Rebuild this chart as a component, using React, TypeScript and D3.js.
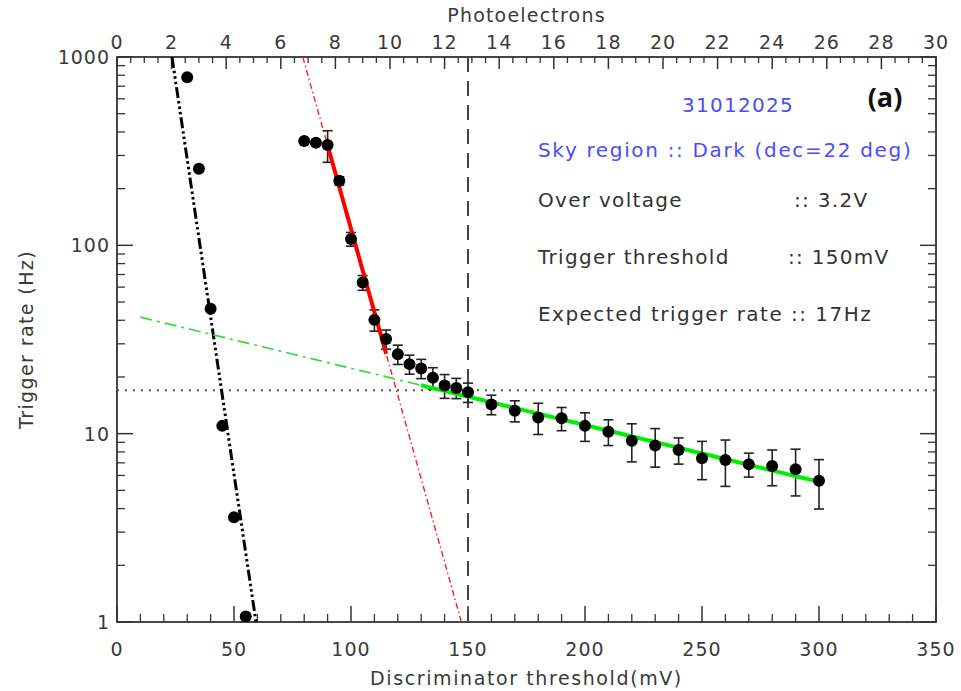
import React, { useEffect } from "react";
import * as d3 from "d3";

// ---------- data ----------
const lowThresholds = [30, 35, 40, 45, 50, 55];
const lowRates = [780, 255, 46, 11.0, 3.6, 1.07];

const thresholds = [80, 85, 90, 95, 100, 105, 110, 115, 120, 125, 130, 135, 140, 145, 150,
  160, 170, 180, 190, 200, 210, 220, 230, 240, 250, 260, 270, 280, 290, 300];
const rates = [358, 351, 341, 220, 108, 63.4, 40.2, 31.8, 26.4, 23.4, 22.2, 19.8, 18.0, 17.5, 16.6,
  14.3, 13.25, 12.2, 12.07, 11.0, 10.25, 9.18, 8.64, 8.19, 7.40, 7.25, 6.88, 6.74, 6.47, 5.63];
const rateErrors = [0, 0, 65, 11, 9, 5.7, 5.2, 3.7, 3.1, 2.7, 2.6, 2.6, 2.6, 2.15, 1.95,
  1.7, 1.7, 2.3, 1.7, 1.9, 1.6, 2.1, 2.0, 1.3, 1.7, 2.0, 1.0, 1.45, 1.8, 1.65];

// fits: log10(rate) = intercept + slope * threshold
const blackFit = { intercept: 4.964, slope: -0.08357, dashFrom: 23.5, dashTo: 59.4 };
const redFit = { intercept: 6.513, slope: -0.04425, dashFrom: 79.4, dashTo: 147.2, solidFrom: 90, solidTo: 115 };
const greenFit = { intercept: 1.6488, slope: -0.003015, dashFrom: 10, dashTo: 300, solidFrom: 130, solidTo: 300 };

const expectedRate = 17;
const triggerThreshold = 150;

const xTicks = [0, 50, 100, 150, 200, 250, 300, 350];
const peTicks = [0, 2, 4, 6, 8, 10, 12, 14, 16, 18, 20, 22, 24, 26, 28, 30];
const yTicks = [1, 10, 100, 1000];

const annotations = [
  { text: "31012025", color: "#4b4bff", anchor: "middle", col: 738, row: 0, len: 0 },
  { text: "Sky region :: Dark (dec=22 deg)", color: "#4b4bff", anchor: "start", col: 538, row: 1, len: 374 },
  { text: "Over voltage", color: "#333", anchor: "start", col: 538, row: 2, len: 0 },
  { text: ":: 3.2V", color: "#333", anchor: "start", col: 794, row: 2, len: 0 },
  { text: "Trigger threshold", color: "#333", anchor: "start", col: 538, row: 3, len: 0 },
  { text: ":: 150mV", color: "#333", anchor: "start", col: 788, row: 3, len: 0 },
  { text: "Expected trigger rate :: 17Hz", color: "#333", anchor: "start", col: 538, row: 4, len: 334 },
];
const annotationRows = [105, 150, 200, 257, 314];

// ---------- layout ----------
const W = 961, H = 691;
const L = 117, R = 936, T = 57, B = 622;
const FONT = "'DejaVu Sans', sans-serif";

export default function App() {
  useEffect(() => {
    document.body.style.margin = "0";
  }, []);

  const x = d3.scaleLinear().domain([0, 350]).range([L, R]);
  const xTop = d3.scaleLinear().domain([0, 30]).range([L, R]);
  const y = d3.scaleLog().domain([1, 1000]).range([B, T]);

  const fitLine = (fit: { intercept: number; slope: number }, a: number, b: number) => {
    const pts: [number, number][] = d3.range(0, 41).map((i) => {
      const t = a + ((b - a) * i) / 40;
      return [t, Math.pow(10, fit.intercept + fit.slope * t)];
    });
    return d3.line<[number, number]>().x((d) => x(d[0])).y((d) => y(d[1]))(pts) || "";
  };

  const xMinor = d3.range(0, 351, 10).filter((v) => v % 50 !== 0);
  const peMinor = d3.range(0, 30.01, 0.5).filter((v) => Math.abs(v % 2) > 1e-6);
  const yMinor: number[] = [];
  [1, 10, 100].forEach((dec) => {
    for (let k = 2; k <= 9; k++) yMinor.push(dec * k);
  });

  const tickColor = "#333";
  const labelColor = "#3a3a3a";

  return (
    <svg width={W} height={H} style={{ position: "absolute", left: 0, top: 0, background: "#fff" }}
      fontFamily={FONT}>
      <rect x={0} y={0} width={W} height={H} fill="#fff" />

      {/* frame */}
      <rect x={L} y={T} width={R - L} height={B - T} fill="none" stroke="#333" strokeWidth={1.8} />

      {/* bottom axis ticks */}
      {xTicks.map((v) => (
        <g key={"xb" + v}>
          <line x1={x(v)} x2={x(v)} y1={B} y2={B - 16} stroke={tickColor} strokeWidth={1.5} />
          <text x={x(v)} y={656} textAnchor="middle" fontSize={19} fill={labelColor} letterSpacing={1}>{v}</text>
        </g>
      ))}
      {xMinor.map((v) => (
        <line key={"xm" + v} x1={x(v)} x2={x(v)} y1={B} y2={B - 8} stroke={tickColor} strokeWidth={1.3} />
      ))}

      {/* top axis ticks (photoelectrons) */}
      {peTicks.map((v) => (
        <g key={"xt" + v}>
          <line x1={xTop(v)} x2={xTop(v)} y1={T} y2={T + 12} stroke={tickColor} strokeWidth={1.5} />
          <text x={xTop(v)} y={49} textAnchor="middle" fontSize={19} fill={labelColor} letterSpacing={1}>{v}</text>
        </g>
      ))}
      {peMinor.map((v) => (
        <line key={"xtm" + v} x1={xTop(v)} x2={xTop(v)} y1={T} y2={T + 6} stroke={tickColor} strokeWidth={1.3} />
      ))}

      {/* left & right axis ticks */}
      {yTicks.map((v) => (
        <g key={"y" + v}>
          <line x1={L} x2={L + 16} y1={y(v)} y2={y(v)} stroke={tickColor} strokeWidth={1.5} />
          <line x1={R} x2={R - 16} y1={y(v)} y2={y(v)} stroke={tickColor} strokeWidth={1.5} />
          <text x={110} y={y(v)} dy="0.36em" textAnchor="end" fontSize={19} fill={labelColor} letterSpacing={1}>{v}</text>
        </g>
      ))}
      {yMinor.map((v) => (
        <g key={"ym" + v}>
          <line x1={L} x2={L + 8} y1={y(v)} y2={y(v)} stroke={tickColor} strokeWidth={1.3} />
          <line x1={R} x2={R - 8} y1={y(v)} y2={y(v)} stroke={tickColor} strokeWidth={1.3} />
        </g>
      ))}

      {/* axis titles */}
      <text x={(L + R) / 2} y={22} textAnchor="middle" fontSize={19} fill={labelColor} letterSpacing={1.2}>Photoelectrons</text>
      <text x={(L + R) / 2} y={685} textAnchor="middle" fontSize={19} fill={labelColor} letterSpacing={1.6}>Discriminator threshold(mV)</text>
      <text transform={`translate(33,${(T + B) / 2}) rotate(-90)`} textAnchor="middle" fontSize={19} fill={labelColor} letterSpacing={1.4}>Trigger rate (Hz)</text>

      <defs>
        <clipPath id="plotclip">
          <rect x={L} y={T} width={R - L} height={B - T} />
        </clipPath>
      </defs>

      <g clipPath="url(#plotclip)">
        {/* reference lines */}
        <line x1={L} x2={R} y1={y(expectedRate)} y2={y(expectedRate)} stroke="#555" strokeWidth={1.8} strokeDasharray="2,6" />
        <line x1={x(triggerThreshold)} x2={x(triggerThreshold)} y1={T} y2={B} stroke="#444" strokeWidth={2} strokeDasharray="15,9" />

        {/* fits */}
        <path d={fitLine(blackFit, blackFit.dashFrom, blackFit.dashTo)} fill="none" stroke="#000" strokeWidth={3}
          strokeDasharray="11,3,2.5,3,2.5,3,2.5,3" />
        <path d={fitLine(redFit, redFit.dashFrom, redFit.dashTo)} fill="none" stroke="#ff2020" strokeWidth={1.4}
          strokeDasharray="6,3,1.5,3" />
        <path d={fitLine(greenFit, greenFit.dashFrom, greenFit.dashTo)} fill="none" stroke="#33dd33" strokeWidth={1.7}
          strokeDasharray="12,5,3,5" />

        {/* error bars */}
        {thresholds.map((t, i) => {
          const e = rateErrors[i];
          if (!e) return null;
          const y1 = y(rates[i] + e);
          const y2 = y(Math.max(rates[i] - e, 1e-3));
          return (
            <g key={"e" + t} stroke="#222" strokeWidth={1.6}>
              <line x1={x(t)} x2={x(t)} y1={y1} y2={y2} />
              <line x1={x(t) - 5} x2={x(t) + 5} y1={y1} y2={y1} />
              <line x1={x(t) - 5} x2={x(t) + 5} y1={y2} y2={y2} />
            </g>
          );
        })}

        {/* solid fit segments */}
        <path d={fitLine(redFit, redFit.solidFrom, redFit.solidTo)} fill="none" stroke="#ff0000" strokeWidth={4} />
        <path d={fitLine(greenFit, greenFit.solidFrom, greenFit.solidTo)} fill="none" stroke="#00ee00" strokeWidth={4} />

        {/* points */}
        {lowThresholds.map((t, i) => (
          <circle key={"lp" + t} cx={x(t)} cy={y(lowRates[i])} r={6} fill="#000" />
        ))}
        {thresholds.map((t, i) => (
          <circle key={"p" + t} cx={x(t)} cy={y(rates[i])} r={6} fill="#000" />
        ))}
      </g>

      {/* annotations */}
      {annotations.map((a, i) => (
        <text key={"a" + i} x={a.col} y={annotationRows[a.row]} dy="0.36em" textAnchor={a.anchor as any}
          fontSize={20} fill={a.color} letterSpacing={1.3}
          {...(a.len ? { textLength: a.len, lengthAdjust: "spacing" } : {})}>{a.text}</text>
      ))}
      <text x={885} y={97} dy="0.36em" textAnchor="middle" fontSize={27} fontWeight="bold"
        fontFamily="'Open Sans', sans-serif" fill="#111">(a)</text>
    </svg>
  );
}
